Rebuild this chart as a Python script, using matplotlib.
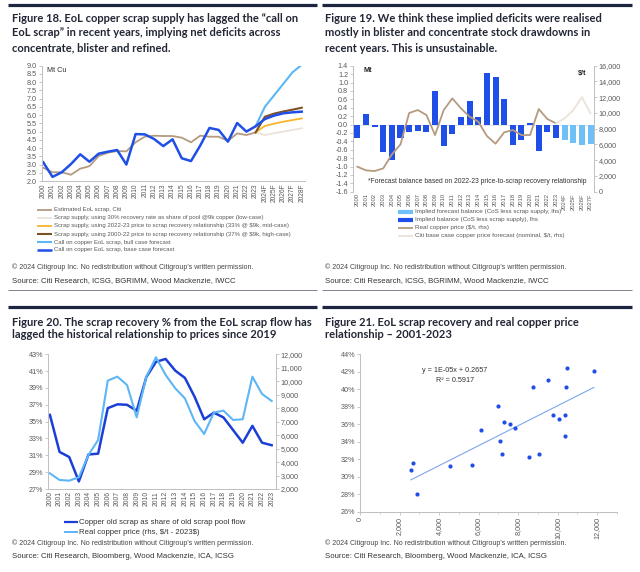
import matplotlib
matplotlib.use('Agg')
import matplotlib.pyplot as plt
import numpy as np
from matplotlib.lines import Line2D
from matplotlib.ticker import FixedLocator, MultipleLocator, FuncFormatter

# ---------------- data ----------------
# Figure 18
f18_cats = [str(y) for y in range(2000, 2024)] + ['2024F', '2025F', '2026F', '2027F', '2028F']
f18_est = [2.8, 2.53, 2.53, 2.38, 2.75, 2.9, 3.52, 3.72, 3.82, 3.8, 4.35, 4.69, 4.75, 4.73,
           4.73, 4.63, 4.35, 4.75, 4.69, 4.69, 4.43, 4.89, 4.79, 4.95]
f18_base = [3.13, 2.25, 2.53, 3.03, 3.62, 3.17, 3.66, 3.78, 3.88, 3.0, 4.85, 4.83, 4.55, 4.12,
            4.53, 3.38, 3.21, 4.15, 5.22, 5.1, 4.39, 5.52, 5.0, 5.32, 5.76, 5.97, 6.11, 6.17, 6.21]
f18_fc_cats = ['2023', '2024F', '2025F', '2026F', '2027F', '2028F']
f18_low = [4.95, 4.79, 4.9, 5.0, 5.1, 5.2]
f18_mid = [4.95, 5.34, 5.48, 5.6, 5.7, 5.8]
f18_high = [4.95, 5.9, 6.09, 6.22, 6.33, 6.45]
f18_bull = [5.32, 6.5, 7.2, 7.9, 8.6, 9.05]

# Figure 19
f19_cats = [str(y) for y in range(2000, 2024)] + ['2024F', '2025F', '2026F', '2027F']
f19_bal = [-0.31, 0.24, -0.05, -0.65, -0.85, -0.31, -0.19, -0.16, -0.17, 0.80, -0.52, -0.22,
           0.19, 0.57, 0.17, 1.23, 1.12, 0.61, -0.49, -0.38, 0.04, -0.63, -0.19, -0.33]
f19_bal_fc = [-0.36, -0.43, -0.49, -0.46]
f19_price = [3175, 2710, 2620, 2960, 4740, 6010, 9990, 10370, 9735, 7195, 10370, 11850, 10580,
             9525, 8890, 7070, 6095, 7535, 7830, 7195, 7195, 10500, 9230, 8680]
f19_price_fc_cats = ['2023', '2024F', '2025F', '2026F', '2027F']
f19_price_fc = [8680, 9310, 10370, 12000, 9950]

# Figure 20
f20_years = [str(y) for y in range(2000, 2024)]
f20_recovery = [35.8, 31.4, 30.8, 27.9, 31.1, 31.2, 36.6, 37.06, 37.0, 36.3, 40.3, 42.1, 42.45,
                41.06, 40.2, 37.97, 35.28, 36.07, 35.5, 34.0, 32.5, 34.5, 32.5, 32.2]
f20_price = [3163, 2668, 2620, 2870, 4525, 5640, 10045, 10340, 9720, 7320, 10340, 11780, 10470,
             9475, 8730, 7050, 6085, 7670, 7820, 7125, 7175, 10340, 9055, 8535]
f20_yticks = [27, 29, 31, 33, 35, 37, 39, 41, 43]

# Figure 21
f21_price = [2576, 2661, 2898, 4559, 5678, 6119, 7000, 7085, 7203, 7271, 7593, 7847, 8542,
             8729, 9068, 9492, 9763, 10085, 10373, 10390, 10424, 10458, 11831]
f21_recovery = [0.3077, 0.3153, 0.2798, 0.3119, 0.3138, 0.3530, 0.3809, 0.3405, 0.3256, 0.3630,
                0.3607, 0.3553, 0.3225, 0.4022, 0.3256, 0.4106, 0.3702, 0.3660, 0.3462, 0.3710,
                0.4030, 0.4244, 0.4209]

# ---------------- style ----------------
W, H = 640, 572
fig = plt.figure(figsize=(6.4, 5.72), dpi=100)
fig.patch.set_facecolor('white')

NARROW = ['Liberation Sans Narrow', 'Liberation Sans', 'DejaVu Sans']
TITLEF = ['Lato', 'DejaVu Sans']
NAVY = '#1e2540'
TXT = '#222635'
GRAY = '#595959'
AXC = '#bfbfbf'
DBLUE = '#1f4fe6'
LBLUE = '#5db6f5'
FCBLUE = '#6ec0f7'
TAN = '#b59a80'
BEIGE = '#ece3d8'
ORANGE = '#f7b529'
BROWN = '#7a5024'


def add_ax(x0, y0, x1, y1):
    return fig.add_axes([x0 / W, 1 - y1 / H, (x1 - x0) / W, (y1 - y0) / H])


def fx(x):
    return x / W


def fy(y):
    return 1 - y / H


def hline(x0, x1, y, lw, color):
    fig.add_artist(Line2D([fx(x0), fx(x1)], [fy(y), fy(y)], lw=lw, color=color,
                          transform=fig.transFigure, solid_capstyle='butt'))


def ftext(x, y, s, **kw):
    kw.setdefault('va', 'center')
    kw.setdefault('ha', 'left')
    fig.text(fx(x), fy(y), s, **kw)


def legend_rows(x0, x1, xt, ys, items, fs, color=GRAY):
    for y, (lab, col, lw) in zip(ys, items):
        hline(x0, x1, y, lw, col)
        ftext(xt, y, lab, fontsize=fs, color=color, family=NARROW)


def style_axis(ax, left=True, right=False, bottom=True, size=5.2):
    for s in ['top', 'right', 'left', 'bottom']:
        ax.spines[s].set_visible(False)
    if left:
        ax.spines['left'].set_visible(True)
    if right:
        ax.spines['right'].set_visible(True)
    if bottom:
        ax.spines['bottom'].set_visible(True)
    for s in ax.spines.values():
        s.set_color(AXC)
        s.set_linewidth(0.7)
    ax.tick_params(colors=AXC, labelcolor=GRAY, labelsize=size, length=2, width=0.6, pad=1.5)
    for lab in ax.get_xticklabels() + ax.get_yticklabels():
        lab.set_family(NARROW)
    ax.patch.set_alpha(0)


# ---------------- frame decorations ----------------
hline(8, 317, 4.5, 2.3, NAVY)
hline(322, 632, 4.5, 2.3, NAVY)
hline(8, 317, 290, 0.7, '#7d8290')
hline(322, 632, 290, 0.7, '#7d8290')
hline(8, 317, 306.5, 2.3, NAVY)
hline(322, 632, 306.5, 2.3, NAVY)

tkw = dict(fontsize=8.0, color=TXT, family=TITLEF, fontweight='bold')
for y, s in zip([18, 33, 48], ['Figure 18. EoL copper scrap supply has lagged the \u201ccall on',
                               'EoL scrap\u201d in recent years, implying net deficits across',
                               'concentrate, blister and refined.']):
    ftext(12, y, s, **tkw)
for y, s in zip([18, 33, 48], ['Figure 19. We think these implied deficits were realised',
                               'mostly in blister and concentrate stock drawdowns in',
                               'recent years. This is unsustainable.']):
    ftext(325, y, s, **tkw)
for y, s in zip([322, 335], ['Figure 20. The scrap recovery % from the EoL scrap flow has',
                             'lagged the historical relationship to prices since 2019']):
    ftext(12, y, s, **tkw)
for y, s in zip([322, 335], ['Figure 21. EoL scrap recovery and real copper price',
                             'relationship \u2013 2001-2023']):
    ftext(325, y, s, **tkw)

copy = '\u00a9 2024 Citigroup Inc. No redistribution without Citigroup\u2019s written permission.'
src1 = 'Source: Citi Research, ICSG, BGRIMM, Wood Mackenzie, IWCC'
src2 = 'Source: Citi Research, Bloomberg, Wood Mackenzie, ICA, ICSG'
for x in (12, 325):
    ftext(x, 267, copy, fontsize=5.0, color='#444444', family=NARROW)
    ftext(x, 281, src1, fontsize=5.6, color='#333333', family=NARROW)
    ftext(x, 543, copy, fontsize=5.0, color='#444444', family=NARROW)
    ftext(x, 557, src2, fontsize=5.6, color='#333333', family=NARROW)

# ---------------- Figure 18 ----------------
ax1 = add_ax(42, 65.7, 305, 181)
x18 = np.arange(len(f18_cats))
fci = [f18_cats.index(c) for c in f18_fc_cats]
ax1.plot(np.arange(len(f18_est)), f18_est, color=TAN, lw=1.3)
ax1.plot(fci, f18_low, color=BEIGE, lw=1.3)
ax1.plot(fci, f18_mid, color=ORANGE, lw=1.3)
ax1.plot(fci, f18_high, color=BROWN, lw=1.5)
ax1.plot(fci, f18_bull, color=LBLUE, lw=1.5)
ax1.plot(x18, f18_base, color=DBLUE, lw=1.8)
ax1.set_xlim(-0.14, 28.35)
ax1.set_ylim(2, 9)
ax1.yaxis.set_major_locator(MultipleLocator(0.5))
ax1.yaxis.set_major_formatter(FuncFormatter(lambda v, p: f'{v:.1f}'))
ax1.set_xticks(x18)
ax1.set_xticklabels(f18_cats, rotation=90)
style_axis(ax1)
ax1.tick_params(axis='x', length=0, labelsize=4.8)
ftext(47, 71, 'Mt Cu', fontsize=5.2, color='#333333', family=NARROW)
legend_rows(37, 52, 53.5, [210, 218, 226, 234, 242, 249.5], [
    ('Estimated EoL scrap, Citi', TAN, 1.3),
    ('Scrap supply, using 30% recovery rate as share of pool @9k copper (low-case)', BEIGE, 1.3),
    ('Scrap supply, using 2022-23 price to scrap recovery relationship (33% @ \\$9k, mid-case)', ORANGE, 1.3),
    ('Scrap supply, using 2000-22 price to scrap recovery relationship (37% @ \\$9k, high-case)', BROWN, 1.5),
    ('Call on copper EoL scrap, bull case forecast', LBLUE, 1.5),
    ('Call on copper EoL scrap, base case forecast', DBLUE, 1.8)], fs=4.35)

# ---------------- Figure 19 ----------------
ax2 = add_ax(353, 65.7, 594, 191.7)
x19 = np.arange(len(f19_cats))
n_hist = len(f19_bal)
ax2.bar(np.arange(n_hist), f19_bal, width=0.7, color=DBLUE)
ax2.bar(np.arange(n_hist, n_hist + len(f19_bal_fc)), f19_bal_fc, width=0.7, color=FCBLUE)
ax2.axhline(0, color='#d9d9d9', lw=0.5, zorder=0)
ax2.set_xlim(-0.5, 27.4)
ax2.set_ylim(-1.6, 1.4)
ax2.yaxis.set_major_locator(FixedLocator(np.round(np.arange(-1.6, 1.41, 0.2), 1)))
ax2.yaxis.set_major_formatter(FuncFormatter(lambda v, p: f'{v:.1f}'.replace('-0.0', '0.0')))
ax2.set_xticks(x19)
ax2.set_xticklabels(f19_cats, rotation=90)
style_axis(ax2, left=True, right=False, bottom=False)
ax2.tick_params(axis='x', length=0, labelsize=4.2, pad=1.0)
ax2r = ax2.twinx()
ax2r.plot(np.arange(len(f19_price)), f19_price, color=TAN, lw=1.3)
ax2r.plot([f19_cats.index(c) for c in f19_price_fc_cats], f19_price_fc, color=BEIGE, lw=1.3)
ax2r.set_ylim(0, 16000)
ax2r.yaxis.set_major_locator(MultipleLocator(2000))
ax2r.yaxis.set_major_formatter(FuncFormatter(lambda v, p: f'{int(v):,}'))
style_axis(ax2r, left=False, right=True, bottom=False)
ax2r.spines['left'].set_visible(True)
ax2r.spines['left'].set_color(AXC)
ftext(363, 70, 'Mt', fontsize=5.2, color='#222222', family=NARROW, fontweight='bold')
ftext(578, 74, '\\$/t', fontsize=5.2, color='#222222', family=NARROW, fontweight='bold')
ftext(477, 182, '*Forecast balance based on 2022-23 price-to-scrap recovery relationship',
      fontsize=4.9, color='#333333', family=NARROW, ha='center')
legend_rows(398, 413, 415, [212, 220, 228, 236], [
    ('Implied forecast balance (CoS less scrap supply, lhs)', FCBLUE, 3.0),
    ('Implied balance (CoS less scrap supply), lhs', DBLUE, 3.0),
    ('Real copper price (\\$/t, rhs)', TAN, 1.3),
    ('Citi base case copper price forecast (nominal, \\$/t, rhs)', BEIGE, 1.3)], fs=4.5)

# ---------------- Figure 20 ----------------
ax3 = add_ax(48, 354.3, 276, 489)
x20 = np.arange(len(f20_years))
ax3.plot(x20, f20_recovery, color='#1a3fd6', lw=1.8)
ax3.set_xlim(-0.2, 23.45)
ax3.set_ylim(27, 43)
ax3.yaxis.set_major_locator(FixedLocator(f20_yticks))
ax3.yaxis.set_major_formatter(FuncFormatter(lambda v, p: f'{int(round(v))}%'))
ax3.set_xticks(x20)
ax3.set_xticklabels(f20_years, rotation=90)
style_axis(ax3, left=True, bottom=True)
ax3.tick_params(axis='x', length=0, labelsize=4.9)
ax3r = ax3.twinx()
ax3r.plot(x20, f20_price, color=LBLUE, lw=1.5)
ax3r.set_ylim(2000, 12000)
ax3r.yaxis.set_major_locator(MultipleLocator(1000))
ax3r.yaxis.set_major_formatter(FuncFormatter(lambda v, p: f'{int(v):,}'))
style_axis(ax3r, left=False, right=True, bottom=False)
legend_rows(64, 78, 79, [522, 532], [
    ('Copper old scrap as share of old scrap pool flow', '#1a3fd6', 1.6),
    ('Real copper price (rhs, \\$/t - 2023\\$)', LBLUE, 1.4)], fs=5.6, color='#333333')

# ---------------- Figure 21 ----------------
ax4 = add_ax(360, 354.3, 617, 511.7)
ax4.scatter(f21_price, f21_recovery, s=9, color=DBLUE, zorder=3, linewidths=0)
k, b = np.polyfit(f21_price, f21_recovery, 1)
xs = np.array([min(f21_price), max(f21_price)])
ax4.plot(xs, k * xs + b, color='#7ea6f0', lw=0.8)
ax4.set_xlim(0, 13000)
ax4.set_ylim(0.26, 0.44)
ax4.yaxis.set_major_locator(FixedLocator(np.round(np.arange(0.26, 0.441, 0.02), 2)))
ax4.yaxis.set_major_formatter(FuncFormatter(lambda v, p: f'{int(round(v * 100))}%'))
ax4.xaxis.set_major_locator(FixedLocator(np.arange(0, 12001, 2000)))
ax4.xaxis.set_minor_locator(MultipleLocator(1000))
ax4.xaxis.set_major_formatter(FuncFormatter(lambda v, p: f'{int(v):,}'))
style_axis(ax4, left=True, bottom=True)
ax4.tick_params(axis='x', which='both', rotation=90)
ax4.tick_params(axis='x', which='minor', length=1.5, color=AXC, width=0.5)
ax4.text(4800, 0.4210, 'y = 1E-05x + 0.2657', fontsize=5.2, color='#333333', family=NARROW,
         ha='center', va='center')
ax4.text(4800, 0.4103, 'R\u00b2 = 0.5917', fontsize=5.2, color='#333333', family=NARROW,
         ha='center', va='center')

fig.savefig('out.png', dpi=100, facecolor='white')
